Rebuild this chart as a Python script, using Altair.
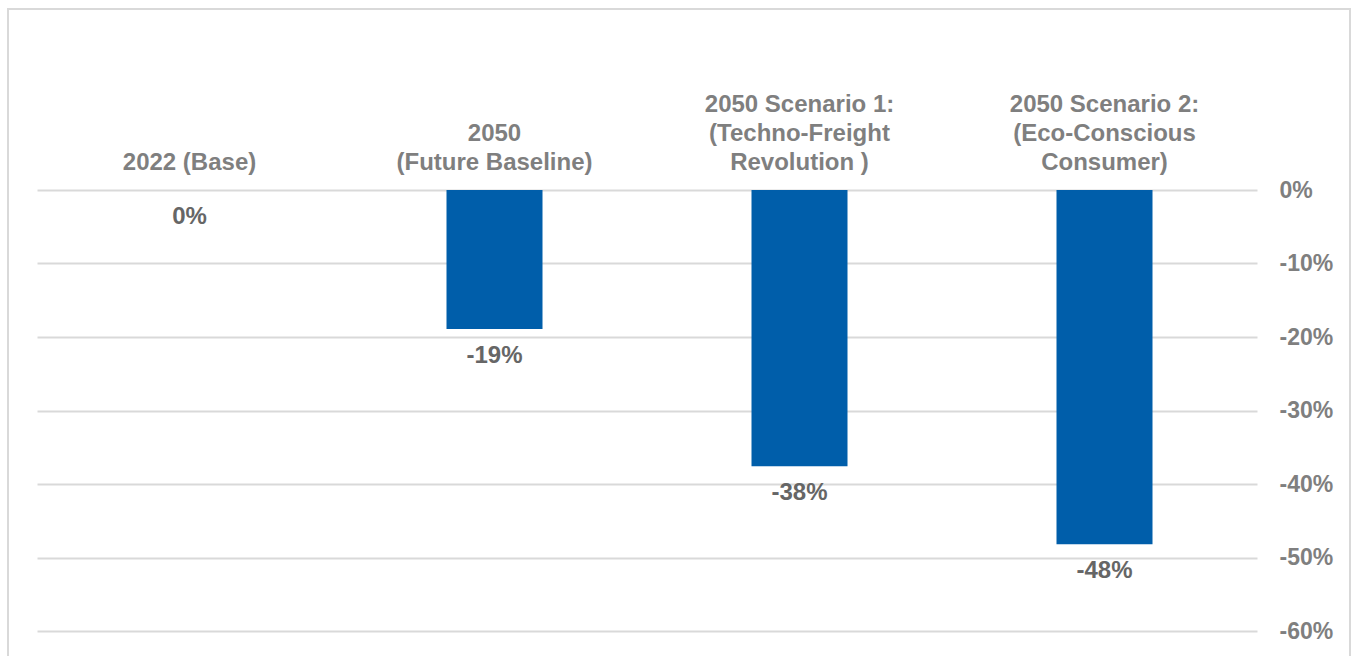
import altair as alt
import pandas as pd

categories = [
    "2022 (Base)",
    "2050\n(Future Baseline)",
    "2050 Scenario 1:\n(Techno-Freight\nRevolution )",
    "2050 Scenario 2:\n(Eco-Conscious\nConsumer)",
]
values = [0.0, -0.189, -0.376, -0.482]
y_ticks = [0.0, -0.1, -0.2, -0.3, -0.4, -0.5, -0.6]

df = pd.DataFrame({"cat": categories, "val": values})

FONT = "Liberation Sans"
GRAY = "#7F7F7F"

# pad every label to three lines (zero-width blank lines on top) so last lines align
L = "split(datum.label, '\\n')"
N = f"length({L})"
BLANK = "'\u200b'"
label_expr = (
    f"[{N} >= 3 ? {L}[0] : {BLANK}, "
    f"{N} >= 2 ? {L}[{N} - 2] : {BLANK}, "
    f"{L}[{N} - 1]]"
)

x_enc = alt.X(
    "cat:N",
    sort=categories,
    scale=alt.Scale(paddingInner=0, paddingOuter=0),
    axis=alt.Axis(
        orient="top",
        title=None,
        domain=False,
        ticks=False,
        labelAngle=0,
        labelExpr=label_expr,
        labelFont=FONT,
        labelFontSize=24,
        labelFontWeight="bold",
        labelColor=GRAY,
        labelLineHeight=29,
        labelPadding=74,
        labelLimit=400,
        labelAlign="center",
        labelBaseline="bottom",
    ),
)
y_scale = alt.Scale(domain=[-0.6, 0], nice=False, zero=False)

bars = alt.Chart(df).mark_bar(color="#005EAA", size=96).encode(
    x=x_enc,
    y=alt.Y(
        "val:Q",
        scale=y_scale,
        axis=alt.Axis(
            orient="right",
            title=None,
            values=y_ticks,
            format=".0%",
            labelExpr="replace(datum.label, '\u2212', '-')",
            domain=False,
            ticks=False,
            grid=True,
            gridColor="#D9D9D9",
            gridWidth=2,
            labelFont=FONT,
            labelFontSize=23,
            labelFontWeight="bold",
            labelColor=GRAY,
            labelPadding=22,
            labelAlign="left",
        ),
    ),
    y2=alt.datum(0),
)

labels = alt.Chart(df).transform_calculate(
    lbl="replace(format(datum.val, '.0%'), '\u2212', '-')"
).mark_text(
    font=FONT, fontSize=24, fontWeight="bold", color="#666666",
    baseline="middle", align="center", dy=27,
).encode(
    x=alt.X("cat:N", sort=categories),
    y=alt.Y("val:Q", scale=y_scale),
    text="lbl:N",
)

frame = alt.Chart(df).mark_rect(
    fill=None, stroke="#D9D9D9", strokeWidth=2
).encode(
    x=alt.value(-29), x2=alt.value(1313), y=alt.value(-181), y2=alt.value(480)
)

chart = alt.layer(frame, bars, labels).properties(
    width=1220,
    height=441,
    padding={"left": 37, "top": 190, "right": 96, "bottom": 25},
    autosize=alt.AutoSizeParams(type="none"),
    background="white",
).configure_view(stroke=None)

chart.save("out.html", embed_options={"renderer": "svg", "actions": False})
